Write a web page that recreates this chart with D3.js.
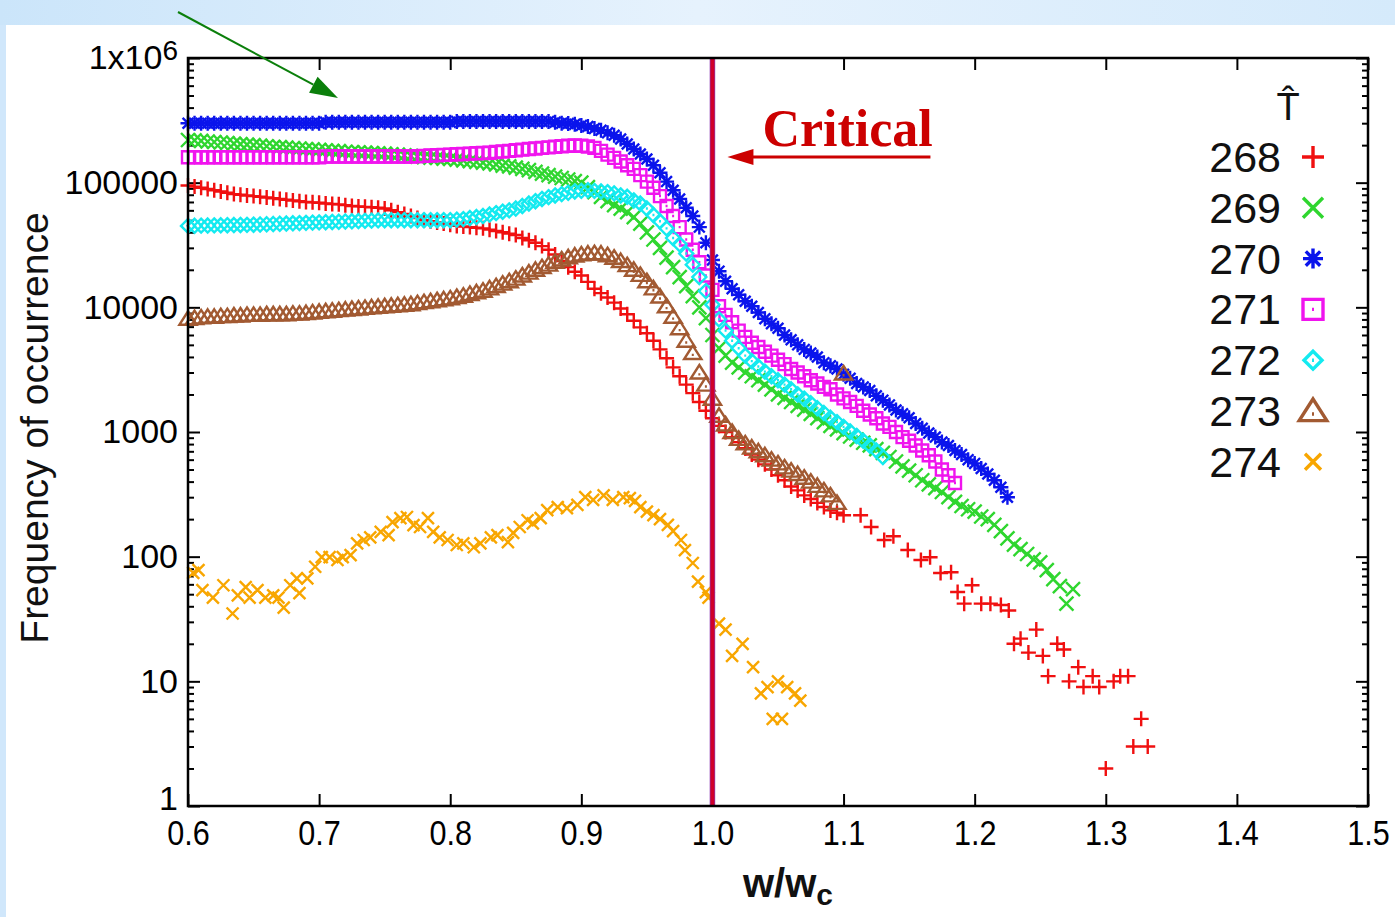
<!DOCTYPE html>
<html>
<head>
<meta charset="utf-8">
<script src="https://cdn.jsdelivr.net/npm/d3@7"></script>
<style>
  body { margin: 0; background: #d2e8fb; }
  svg { display: block; }
  text { font-family: "Liberation Sans", Arial, Helvetica, sans-serif; }
</style>
</head>
<body>
<div id="content"></div>
<script>
var width = 1395;
var height = 917;

// sample positions w/wc shared by the dense series
var wGrid = [
  0.600, 0.605, 0.610, 0.615, 0.620, 0.625, 0.630, 0.635, 0.640, 0.645,
  0.650, 0.655, 0.660, 0.665, 0.670, 0.675, 0.680, 0.685, 0.690, 0.695,
  0.700, 0.705, 0.710, 0.715, 0.720, 0.725, 0.730, 0.735, 0.740, 0.745,
  0.750, 0.755, 0.760, 0.765, 0.770, 0.775, 0.780, 0.785, 0.790, 0.795,
  0.800, 0.805, 0.810, 0.815, 0.820, 0.825, 0.830, 0.835, 0.840, 0.845,
  0.850, 0.855, 0.860, 0.865, 0.870, 0.875, 0.880, 0.885, 0.890, 0.895,
  0.900, 0.905, 0.910, 0.915, 0.920, 0.925, 0.930, 0.935, 0.940, 0.945,
  0.950, 0.955, 0.960, 0.965, 0.970, 0.975, 0.980, 0.985, 0.990, 0.995,
  1.000, 1.005, 1.010, 1.015, 1.020, 1.025, 1.030, 1.035, 1.040, 1.045,
  1.050, 1.055, 1.060, 1.065, 1.070, 1.075, 1.080, 1.085, 1.090, 1.095,
  1.100, 1.105, 1.110, 1.115, 1.120, 1.125, 1.130, 1.135, 1.140, 1.145,
  1.150, 1.155, 1.160, 1.165, 1.170, 1.175, 1.180, 1.185, 1.190, 1.195,
  1.200, 1.205, 1.210, 1.215, 1.220, 1.225, 1.230, 1.235, 1.240, 1.245,
  1.250, 1.255, 1.260, 1.265, 1.270, 1.275
];

// T = 268 (on wGrid up to 1.100, then scattered tail)
var freq268 = [
  95000, 93000, 91000, 89000, 87000, 85000, 83000, 81000, 80000, 79000,
  78000, 77000, 76000, 75000, 74000, 73000, 72000, 71000, 70000, 69500,
  69000, 68000, 67500, 67000, 66000, 65000, 64500, 64000, 63500, 63000,
  62000, 60000, 58000, 56000, 54000, 52000, 50000, 49000, 48000, 47000,
  46000, 45000, 44500, 44000, 43500, 43000, 42000, 41000, 40000, 39000,
  38000, 36000, 34500, 33000, 31000, 29000, 26500, 23500, 21000, 19300,
  18000, 16000, 14100, 13000, 12000, 10900, 9800, 8800, 7800, 6900,
  6200, 5400, 4600, 3900, 3300, 2800, 2400, 2050, 1740, 1480,
  1290, 1120, 1000, 910, 830, 740, 660, 600, 550, 500,
  450, 410, 365, 340, 310, 290, 270, 250, 235, 225,
  215
];
var tailW268 = [1.113, 1.121, 1.131, 1.138, 1.149, 1.159, 1.166, 1.174, 1.182, 1.187,
  1.192, 1.198, 1.205, 1.212, 1.220, 1.226, 1.230, 1.235, 1.241, 1.247,
  1.252, 1.256, 1.263, 1.268, 1.272, 1.279, 1.283, 1.290, 1.295, 1.300,
  1.306, 1.311, 1.317, 1.321, 1.327, 1.332];
var tailF268 = [215, 173, 136, 146, 113, 94, 99, 74, 75, 52,
  42, 59, 42, 42, 41, 37, 20, 22, 17, 26,
  16, 11, 20, 18, 10, 13, 9, 11, 9, 2,
  10, 11, 11, 3, 5, 3];

// T = 269 (0.600 - 1.275)
var freq269 = [
  220000, 218000, 216000, 214000, 212000, 210000, 208000, 206000, 204000, 202000,
  200000, 198000, 196000, 194000, 193000, 191000, 189000, 188000, 186000, 185000,
  183000, 182000, 180000, 179000, 177000, 176000, 175000, 174000, 173000, 172000,
  171000, 169000, 168000, 166000, 164000, 162000, 160000, 159000, 158000, 156000,
  155000, 153000, 151000, 149000, 147000, 145000, 143000, 140000, 137000, 135000,
  132000, 129000, 126000, 122000, 118000, 115000, 112000, 109000, 106000, 103000,
  100000, 92000, 84000, 77000, 71000, 66000, 62000, 58000, 53000, 47000,
  40000, 35000, 30000, 25000, 21000, 17500, 14800, 12300, 10000, 8200,
  6000, 4700, 4100, 3600, 3300, 3000, 2800, 2600, 2400, 2200,
  2000, 1880, 1740, 1620, 1510, 1400, 1290, 1200, 1120, 1050,
  980, 920, 870, 820, 780, 730, 680, 630, 580, 530,
  490, 450, 410, 380, 355, 330, 300, 275, 255, 240,
  230, 210, 200, 180, 160, 140, 125, 115, 105, 95,
  90, 78, 66, 58, 42, 55
];

// T = 270 (0.600 - 1.225)
var freq270 = [
  300000, 300000, 300000, 300000, 300000, 300000, 300000, 300000, 300000, 300000,
  300000, 300000, 300000, 300000, 300000, 300000, 300000, 300000, 300000, 300000,
  300000, 305000, 305000, 305000, 305000, 305000, 305000, 305000, 305000, 305000,
  305000, 305000, 305000, 305000, 305000, 305000, 305000, 305000, 305000, 305000,
  305000, 310000, 310000, 310000, 310000, 310000, 310000, 310000, 310000, 310000,
  310000, 310000, 310000, 310000, 310000, 310000, 305000, 300000, 298000, 294000,
  288000, 282000, 272000, 263000, 251000, 240000, 224000, 204000, 186000, 170000,
  155000, 138000, 120000, 102000, 87000, 74000, 63000, 54000, 44000, 33000,
  24000, 19500, 16200, 14100, 12600, 11200, 10200, 9100, 8100, 7400,
  6800, 6000, 5500, 5000, 4600, 4300, 4000, 3600, 3400, 3200,
  2900, 2700, 2450, 2300, 2150, 1950, 1800, 1650, 1500, 1400,
  1300, 1170, 1070, 980, 910, 830, 780, 710, 660, 600,
  560, 510, 460, 410, 360, 300
];

// T = 271 (0.600 - 1.185)
var freq271 = [
  160000, 160000, 160000, 160000, 160000, 160000, 160000, 160000, 160000, 160000,
  160000, 160000, 160000, 160000, 160000, 160000, 160000, 160000, 160000, 160000,
  160000, 162000, 162000, 162000, 162000, 162000, 162000, 162000, 162000, 162000,
  162000, 162000, 162000, 162000, 162000, 163000, 164000, 165000, 166000, 167000,
  168000, 169000, 170000, 171000, 172000, 173000, 174000, 176000, 178000, 180000,
  182000, 184000, 186000, 188000, 190000, 192000, 194000, 196000, 198000, 199000,
  198000, 195000, 190000, 180000, 168000, 158000, 148000, 138000, 129000, 115000,
  102000, 91000, 78000, 65000, 54000, 44000, 35000, 29000, 23000, 18000,
  13800, 10200, 8700, 7600, 6500, 5800, 5200, 4800, 4400, 4100,
  3800, 3500, 3200, 3000, 2800, 2600, 2450, 2300, 2200, 2000,
  1860, 1740, 1620, 1480, 1380, 1290, 1170, 1100, 1000, 910,
  850, 780, 710, 650, 580, 500, 450, 390
];

// T = 272 (0.600 - 1.130)
var freq272 = [
  45000, 45100, 45200, 45300, 45400, 45500, 45600, 45700, 45800, 45900,
  46000, 46200, 46400, 46600, 46800, 47000, 47200, 47400, 47600, 47800,
  48000, 48200, 48400, 48600, 48800, 49000, 49200, 49400, 49600, 49800,
  50000, 50000, 50000, 50000, 50000, 50000, 50000, 50000, 50000, 50000,
  50000, 50500, 51000, 52000, 53000, 54000, 55500, 57000, 58500, 60000,
  62000, 65000, 68000, 71000, 74000, 76500, 79000, 81000, 83000, 85000,
  86000, 87000, 86000, 85000, 84000, 82000, 79000, 77000, 72000, 68000,
  62000, 55000, 49000, 43000, 36000, 32000, 27000, 22000, 17500, 13500,
  10500, 8000, 6500, 5400, 4700, 4100, 3700, 3350, 3050, 2800,
  2600, 2400, 2200, 2000, 1850, 1700, 1550, 1420, 1300, 1200,
  1100, 1010, 930, 850, 780, 710, 630
];

// T = 273 (0.600 - 1.100)
var freq273 = [
  8100, 8200, 8300, 8400, 8400, 8500, 8500, 8600, 8600, 8700,
  8700, 8700, 8800, 8800, 8800, 8800, 8900, 8900, 9000, 9100,
  9200, 9300, 9400, 9500, 9600, 9700, 9800, 9900, 10000, 10100,
  10200, 10300, 10400, 10500, 10600, 10800, 11000, 11200, 11400, 11600,
  11800, 12100, 12400, 12800, 13200, 13600, 14200, 14800, 15500, 16200,
  17000, 18000, 19000, 20000, 21000, 22000, 23200, 24200, 25200, 26000,
  26600, 27000, 27200, 27000, 26200, 25000, 23500, 21800, 20000, 18200,
  16200, 14200, 12200, 10200, 8400, 6800, 5400, 4300, 3000, 2400,
  1850, 1350, 1150, 1000, 880, 810, 750, 700, 650, 600,
  560, 520, 490, 460, 430, 400, 370, 340, 310, 270,
  2950
];

// T = 274 (scattered)
var w274 = [
  0.604, 0.608, 0.611, 0.619, 0.627, 0.634, 0.638, 0.644, 0.647, 0.653,
  0.659, 0.665, 0.669, 0.673, 0.678, 0.683, 0.685, 0.691, 0.697, 0.702,
  0.708, 0.714, 0.718, 0.724, 0.729, 0.734, 0.739, 0.747, 0.753, 0.756,
  0.762, 0.767, 0.772, 0.777, 0.783, 0.787, 0.792, 0.798, 0.805, 0.810,
  0.818, 0.823, 0.831, 0.836, 0.844, 0.848, 0.853, 0.859, 0.863, 0.869,
  0.874, 0.882, 0.889, 0.897, 0.903, 0.909, 0.917, 0.924, 0.932, 0.937,
  0.941, 0.945, 0.950, 0.955, 0.960, 0.966, 0.970, 0.976, 0.979, 0.985,
  0.989, 0.995, 0.997, 1.005, 1.010, 1.015, 1.023, 1.031, 1.037, 1.042,
  1.046, 1.050, 1.053, 1.057, 1.063, 1.067
];
var freq274 = [
  74, 78, 54, 47, 59, 35, 49, 57, 47, 54,
  47, 49, 47, 39, 59, 67, 51, 67, 83, 99,
  99, 94, 99, 103, 128, 136, 143, 158, 149, 189,
  204, 208, 179, 173, 204, 158, 143, 136, 124, 128,
  119, 128, 143, 149, 131, 155, 173, 196, 185, 204,
  236, 250, 245, 260, 300, 285, 310, 285, 300, 295,
  280, 250, 230, 215, 200, 180, 160, 136, 113, 89,
  63, 52, 47, 29, 26, 16, 20, 13, 8, 9,
  5, 10, 5, 9, 8, 7
];

var seriesNames = ["268", "269", "270", "271", "272", "273", "274"];
var xTicks = [0.6, 0.7, 0.8, 0.9, 1.0, 1.1, 1.2, 1.3, 1.4, 1.5];
var yTicks = [1, 10, 100, 1000, 10000, 100000, 1000000];
var criticalW = 1.0;

// styles
var colors = ["#f01010", "#2fd62f", "#0a14ec", "#f014ee", "#14eaf0", "#a25a32", "#f8a600"];
var shapes = ["plus", "cross", "star", "box", "diamond", "triangle", "cross"];
var markSize = [7.5, 7, 7.5, 6, 7, 7.5, 6];
var keySize = [11, 10, 10, 10, 9, 12, 8];

var margin = { top: 58, right: 27, bottom: 111, left: 188 };
var plotW = width - margin.left - margin.right;
var plotH = height - margin.top - margin.bottom;

var svg = d3.select("#content").append("svg").attr("width", width).attr("height", height);

var grad = svg.append("defs").append("linearGradient").attr("id", "band");
grad.append("stop").attr("offset", "0%").attr("stop-color", "#cbe5fa");
grad.append("stop").attr("offset", "50%").attr("stop-color", "#e6f2fd");
grad.append("stop").attr("offset", "100%").attr("stop-color", "#d5eafb");

svg.append("rect").attr("width", width).attr("height", height).attr("fill", "#d0e7fb");
svg.append("rect").attr("width", width).attr("height", 25).attr("fill", "url(#band)");
svg.append("rect").attr("x", 6).attr("y", 25).attr("width", width - 6).attr("height", height - 25).attr("fill", "#fff");

var x = d3.scaleLinear().domain([0.6, 1.5]).range([0, plotW]);
var y = d3.scaleLog().domain([1, 1e6]).range([plotH, 0]);

var g = svg.append("g").attr("transform", `translate(${margin.left},${margin.top})`);

var yMinor = [];
yTicks.slice(0, -1).forEach(function (t) {
    for (var k = 2; k <= 9; k++) yMinor.push(t * k);
});

function styleAxis(sel) {
    sel.select(".domain").remove();
    sel.selectAll("line").attr("stroke", "#000").attr("stroke-width", 2);
}

var bottomAxis = g.append("g")
    .attr("transform", `translate(0,${plotH})`)
    .call(d3.axisBottom(x).tickValues(xTicks).tickSize(-12).tickPadding(13).tickFormat(d3.format(".1f")));
styleAxis(bottomAxis);
bottomAxis.selectAll("text")
    .attr("font-size", 36)
    .attr("fill", "#000")
    .attr("transform", "scale(0.85,1)");

g.append("g").call(d3.axisTop(x).tickValues(xTicks).tickSize(-12).tickFormat("")).call(styleAxis);

var leftAxis = g.append("g")
    .call(d3.axisLeft(y).tickValues(yTicks).tickSize(-12).tickPadding(10).tickFormat(d3.format("d")));
styleAxis(leftAxis);
leftAxis.selectAll("text").attr("font-size", 34).attr("fill", "#000");
leftAxis.selectAll(".tick text").filter(function (d) { return d === 1; }).attr("dy", "0.1em");
leftAxis.selectAll(".tick text").filter(function (d) { return d === 1e6; })
    .text("1x10")
    .append("tspan").attr("dy", -9).attr("font-size", 28).text("6");

g.append("g").call(d3.axisLeft(y).tickValues(yMinor).tickSize(-6).tickFormat("")).call(styleAxis);
g.append("g").attr("transform", `translate(${plotW},0)`)
    .call(d3.axisRight(y).tickValues(yTicks).tickSize(-12).tickFormat("")).call(styleAxis);
g.append("g").attr("transform", `translate(${plotW},0)`)
    .call(d3.axisRight(y).tickValues(yMinor).tickSize(-6).tickFormat("")).call(styleAxis);

function markerPath(shape, s) {
    if (shape === "plus") return `M${-s},0H${s}M0,${-s}V${s}`;
    if (shape === "cross") return `M${-s},${-s}L${s},${s}M${-s},${s}L${s},${-s}`;
    if (shape === "star") {
        var d = s * 0.72;
        return `M${-s},0H${s}M0,${-s}V${s}M${-d},${-d}L${d},${d}M${-d},${d}L${d},${-d}`;
    }
    if (shape === "box") return `M${-s},${-s}H${s}V${s}H${-s}ZM-1,0H1`;
    if (shape === "diamond") return `M0,${-s}L${s},0L0,${s}L${-s},0ZM-1,0H1`;
    return `M0,${-s}L${s * 1.15},${s * 0.8}H${-s * 1.15}ZM-1,${s * 0.25}H1`;
}

function onGrid(values) {
    return values.map(function (f, i) { return { w: wGrid[i], f: f }; });
}
function paired(ws, fs) {
    return ws.map(function (w, i) { return { w: w, f: fs[i] }; });
}

var seriesPoints = [
    onGrid(freq268).concat(paired(tailW268, tailF268)),
    onGrid(freq269),
    onGrid(freq270),
    onGrid(freq271),
    onGrid(freq272),
    onGrid(freq273),
    paired(w274, freq274)
];

seriesPoints.forEach(function (points, si) {
    g.append("g")
        .attr("class", "series s" + seriesNames[si])
        .selectAll("path")
        .data(points)
        .enter()
        .append("path")
        .attr("transform", function (d) { return `translate(${x(d.w)},${y(d.f)})`; })
        .attr("d", markerPath(shapes[si], markSize[si]))
        .attr("fill", "none")
        .attr("stroke", colors[si])
        .attr("stroke-width", 2.4);
});

// critical line
g.append("line")
    .attr("x1", x(criticalW)).attr("x2", x(criticalW))
    .attr("y1", 0).attr("y2", plotH)
    .attr("stroke", "#8a3ab4").attr("stroke-width", 5.5);
g.append("line")
    .attr("x1", x(criticalW)).attr("x2", x(criticalW))
    .attr("y1", 0).attr("y2", plotH)
    .attr("stroke", "#d0002a").attr("stroke-width", 4);

// frame
g.append("rect")
    .attr("width", plotW).attr("height", plotH)
    .attr("fill", "none").attr("stroke", "#000").attr("stroke-width", 2.5);

// axis titles
svg.append("text")
    .attr("transform", "translate(48,428) rotate(-90)")
    .attr("text-anchor", "middle")
    .attr("font-size", 39)
    .attr("fill", "#111")
    .text("Frequency of occurrence");

var xTitle = svg.append("text")
    .attr("x", 788).attr("y", 897)
    .attr("text-anchor", "middle")
    .attr("font-size", 40)
    .attr("font-weight", "bold")
    .attr("fill", "#111")
    .text("w/w");
xTitle.append("tspan").attr("dy", 8).attr("font-size", 30).text("c");

// legend
var legend = svg.append("g").attr("transform", "translate(1281,157)");
legend.append("text")
    .attr("x", 7).attr("y", -37)
    .attr("text-anchor", "middle")
    .attr("font-size", 38)
    .attr("fill", "#111")
    .text("T\u0302");

var rows = legend.selectAll(".row")
    .data(seriesNames)
    .enter()
    .append("g")
    .attr("class", "row")
    .attr("transform", function (d, i) { return `translate(0,${i * 50.8})`; });

rows.append("text")
    .attr("text-anchor", "end")
    .attr("y", 15)
    .attr("font-size", 43)
    .attr("fill", "#111")
    .text(function (d) { return d; });

rows.append("path")
    .attr("transform", "translate(32,0)")
    .attr("d", function (d, i) { return markerPath(shapes[i], keySize[i]); })
    .attr("fill", "none")
    .attr("stroke", function (d, i) { return colors[i]; })
    .attr("stroke-width", 3.4);

// "Critical" annotation
var critX = margin.left + x(criticalW);
svg.append("text")
    .attr("x", critX + 50).attr("y", 146)
    .style("font-family", "'Liberation Serif', 'Times New Roman', serif")
    .attr("font-weight", "bold")
    .attr("font-size", 52)
    .attr("fill", "#cc0000")
    .text("Critical");
svg.append("line")
    .attr("x1", critX + 38).attr("x2", critX + 218)
    .attr("y1", 157).attr("y2", 157)
    .attr("stroke", "#cc0000").attr("stroke-width", 3);
svg.append("path")
    .attr("d", `M${critX + 15},157L${critX + 41},149L${critX + 41},165Z`)
    .attr("fill", "#cc0000");

// green pointer from the slide title
var a0 = [178, 12], a1 = [338, 98];
var ang = Math.atan2(a1[1] - a0[1], a1[0] - a0[0]);
var headLen = 28, headHalf = 9;
var bx = a1[0] - headLen * Math.cos(ang), by = a1[1] - headLen * Math.sin(ang);
svg.append("line")
    .attr("x1", a0[0]).attr("y1", a0[1]).attr("x2", bx).attr("y2", by)
    .attr("stroke", "#0b7f0b").attr("stroke-width", 2);
svg.append("path")
    .attr("d", `M${a1[0]},${a1[1]}L${bx - headHalf * Math.sin(ang)},${by + headHalf * Math.cos(ang)}L${bx + headHalf * Math.sin(ang)},${by - headHalf * Math.cos(ang)}Z`)
    .attr("fill", "#0b7f0b");
</script>
</body>
</html>
